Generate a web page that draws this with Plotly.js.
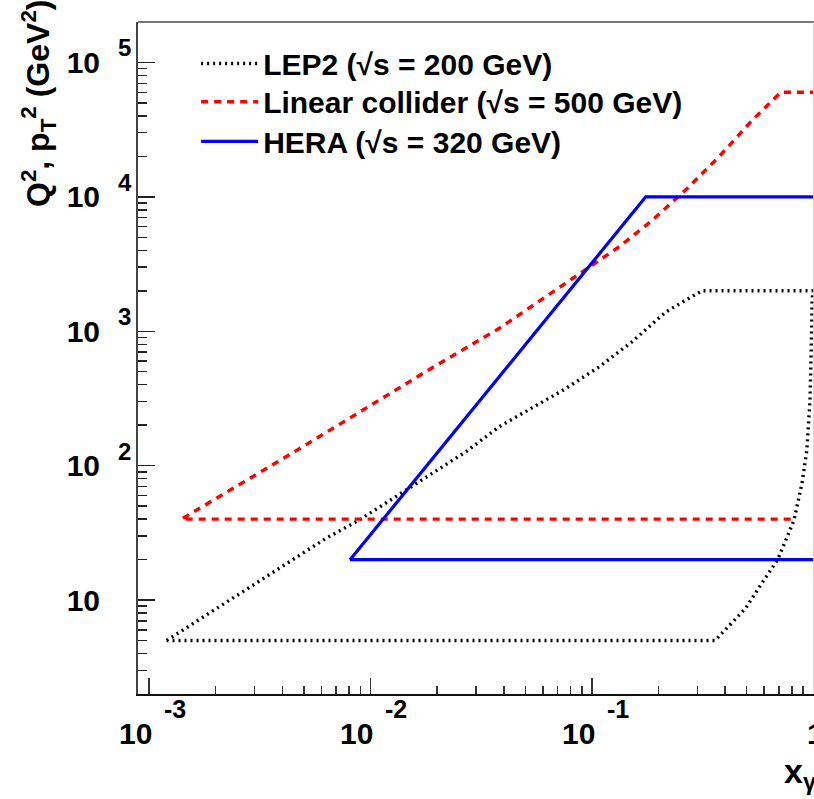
<!DOCTYPE html>
<html><head><meta charset="utf-8">
<script src="https://cdn.plot.ly/plotly-3.0.1.min.js"></script>
<style>html,body{margin:0;padding:0;background:#fff;} #chart{width:814px;height:799px;}</style>
</head><body><div id="chart"></div>
<script>
// LEP2 (sqrt(s) = 200 GeV): closed contour
const lepX = [1.2e-3, 6.3e-3, 8.9e-3, 0.0161, 0.027, 0.0382, 0.0539, 0.0764, 0.108, 0.152, 0.216, 0.314, 0.995, 0.988, 0.978, 0.966, 0.935, 0.889, 0.817, 0.69, 0.586, 0.495, 0.36, 1.2e-3];
const lepY = [5, 28.8, 39.4, 73.8, 127, 195, 269, 376, 545, 836, 1396, 2000, 2000, 1700, 725, 308, 131, 74, 39, 20, 13.4, 8.7, 5, 5];
// Linear collider (sqrt(s) = 500 GeV)
const lcX = [0.79, 1.4e-3, 4.79e-3, 9.57e-3, 0.0191, 0.0382, 0.0764, 0.133, 0.188, 0.265, 0.375, 0.53, 0.713, 1.0];
const lcY = [40, 40, 134, 267, 538, 1052, 2270, 4260, 6720, 11250, 19900, 37200, 60000, 60000];
// HERA (sqrt(s) = 320 GeV)
const heraX = [1.0, 8.1e-3, 0.175, 1.0];
const heraY = [20, 20, 10000, 10000];

const seriesNames = ['LEP2 (\u221As = 200 GeV)', 'Linear collider (\u221As = 500 GeV)', 'HERA (\u221As = 320 GeV)'];

// tick labels: mantissa + exponent (ROOT style)
const xTickVals = [1e-3, 1e-2, 1e-1, 1];
const xTickBase = ['10', '10', '10', '1'];
const xTickExp = ['-3', '-2', '-1', ''];
const yTickVals = [10, 100, 1000, 1e4, 1e5];
const yTickText = ['10', '10', '10', '10', '10'];
const yTickExp = ['', '2', '3', '4', '5'];

const FONT = 'Liberation Sans, Arial, Helvetica, sans-serif';

const xMinor = [];
for (let k = -3; k <= -1; k++) for (let m = 2; m <= 9; m++) xMinor.push(m * Math.pow(10, k));
const yMinor = [];
for (let m = 3; m <= 9; m++) yMinor.push(m);
for (let k = 1; k <= 4; k++) for (let m = 2; m <= 9; m++) yMinor.push(m * Math.pow(10, k));

const traces = [
  {x: lepX, y: lepY, name: seriesNames[0], mode: 'lines', legend: 'legend', line: {color: '#000000', width: 3.4, dash: '2px,4px'}},
  {x: lcX, y: lcY, name: seriesNames[1], mode: 'lines', legend: 'legend2', line: {color: '#ff0000', width: 3.4, dash: '7px,6px'}},
  {x: heraX, y: heraY, name: seriesNames[2], mode: 'lines', legend: 'legend3', line: {color: '#0000ff', width: 3.2}}
];

const annotations = [];
xTickVals.forEach((v, i) => {
  const hasExp = !!xTickExp[i];
  annotations.push({xref: 'x', yref: 'paper', x: Math.log10(v), y: 0,
    xanchor: hasExp ? 'right' : 'center', yanchor: 'top',
    xshift: hasExp ? 5 : 2, yshift: -21, showarrow: false, text: xTickBase[i],
    font: {family: FONT, size: 30, color: '#000', weight: 'bold'}});
  if (!hasExp) return;
  annotations.push({xref: 'x', yref: 'paper', x: Math.log10(v), y: 0, xanchor: 'left', yanchor: 'top',
    xshift: 13, yshift: 1, showarrow: false, text: xTickExp[i],
    font: {family: FONT, size: 25, color: '#000', weight: 'bold'}});
});
yTickVals.forEach((v, i) => {
  if (!yTickExp[i]) return;
  annotations.push({xref: 'paper', yref: 'y', x: 0, y: Math.log10(v), xanchor: 'left', yanchor: 'bottom',
    xshift: -22, yshift: -1, showarrow: false, text: yTickExp[i],
    font: {family: FONT, size: 24, color: '#000', weight: 'bold'}});
});
annotations.push({xref: 'paper', yref: 'paper', x: 0, y: 1, xanchor: 'center', yanchor: 'top',
  xshift: -100, yshift: 25, textangle: -90, showarrow: false,
  text: 'Q<sup>2</sup>, p<sub>T</sub><sup>2</sup> (GeV<sup>2</sup>)',
  font: {family: FONT, size: 32, color: '#000', weight: 'bold'}});
annotations.push({xref: 'paper', yref: 'paper', x: 1, y: 0, xanchor: 'left', yanchor: 'top',
  xshift: -32, yshift: -56, showarrow: false, text: 'x<sub>\u03b3</sub>',
  font: {family: FONT, size: 34, color: '#000', weight: 'bold'}});

const legendBase = {xanchor: 'left', yanchor: 'top', bgcolor: 'rgba(0,0,0,0)',
  font: {family: FONT, size: 30, color: '#000', weight: 'bold'}, itemwidth: 57, tracegroupgap: 0};

const layout = {
  width: 814, height: 799,
  margin: {l: 138, r: 0, t: 22, b: 105, pad: 0},
  paper_bgcolor: '#ffffff', plot_bgcolor: '#ffffff',
  showlegend: true,
  legend: Object.assign({x: 0.086, y: 0.977}, legendBase),
  legend2: Object.assign({x: 0.086, y: 0.920}, legendBase),
  legend3: Object.assign({x: 0.086, y: 0.861}, legendBase),
  xaxis: {type: 'log', range: [-3.05, 0.003], showgrid: false, zeroline: false,
    showline: true, linecolor: '#111', linewidth: 2,
    tickmode: 'array', tickvals: xTickVals, showticklabels: false,
    ticks: 'inside', ticklen: 16, tickwidth: 1.5, tickcolor: '#333',
    minor: {tickmode: 'array', tickvals: xMinor, ticks: 'inside', ticklen: 8, tickwidth: 1.5, tickcolor: '#333', showgrid: false}
  },
  yaxis: {type: 'log', range: [Math.log10(2), Math.log10(2e5)], showgrid: false, zeroline: false,
    showline: true, linecolor: '#444', linewidth: 2,
    tickmode: 'array', tickvals: yTickVals, ticktext: yTickText,
    ticks: 'inside', ticklen: 17, tickwidth: 1.5, tickcolor: '#222',
    ticklabelstandoff: 30, ticklabeloverflow: 'allow',
    tickfont: {family: FONT, size: 30, color: '#000', weight: 'bold'},
    minor: {tickmode: 'array', tickvals: yMinor, ticks: 'inside', ticklen: 9, tickwidth: 1.5, tickcolor: '#222', showgrid: false}
  },
  shapes: [
    {type: 'line', xref: 'paper', yref: 'paper', x0: 0, x1: 1, y0: 1, y1: 1, line: {color: '#777', width: 2}},
    {type: 'line', xref: 'paper', yref: 'paper', x0: 1, x1: 1, y0: 0, y1: 1, line: {color: '#ccc', width: 1.5}}
  ],
  annotations: annotations
};

Plotly.newPlot('chart', traces, layout, {displayModeBar: false, staticPlot: true});
</script>
</body></html>
